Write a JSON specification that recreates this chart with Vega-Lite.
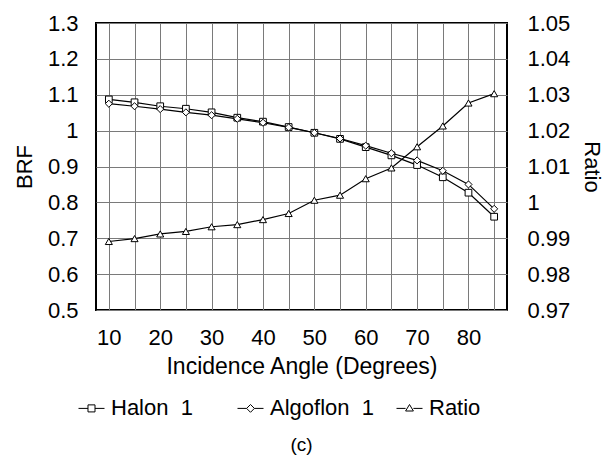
{
  "$schema": "https://vega.github.io/schema/vega-lite/v6.json",
  "width": 411,
  "height": 287,
  "autosize": {"type": "none"},
  "padding": {"left": 96, "top": 23, "right": 104, "bottom": 147},
  "background": "white",
  "config": {
    "font": "Liberation Sans",
    "view": {"stroke": "black", "strokeWidth": 2},
    "axis": {
      "labelFont": "Liberation Sans",
      "titleFont": "Liberation Sans",
      "labelFontSize": 22,
      "titleFontSize": 22,
      "titleFontWeight": "normal",
      "labelColor": "black",
      "titleColor": "black",
      "ticks": false,
      "domain": false,
      "gridColor": "#7a7a7a",
      "gridWidth": 1,
      "gridOpacity": 1
    }
  },
  "title": {
    "text": "(c)",
    "orient": "bottom",
    "fontSize": 19,
    "fontWeight": "normal",
    "font": "Liberation Sans",
    "color": "black",
    "offset": 17
  },
  "data": {
    "values": [
      {"angle": 10, "series": "Halon 1", "value": 1.087},
      {"angle": 15, "series": "Halon 1", "value": 1.079},
      {"angle": 20, "series": "Halon 1", "value": 1.068},
      {"angle": 25, "series": "Halon 1", "value": 1.061},
      {"angle": 30, "series": "Halon 1", "value": 1.051},
      {"angle": 35, "series": "Halon 1", "value": 1.036},
      {"angle": 40, "series": "Halon 1", "value": 1.025},
      {"angle": 45, "series": "Halon 1", "value": 1.010},
      {"angle": 50, "series": "Halon 1", "value": 0.994},
      {"angle": 55, "series": "Halon 1", "value": 0.977},
      {"angle": 60, "series": "Halon 1", "value": 0.954},
      {"angle": 65, "series": "Halon 1", "value": 0.931},
      {"angle": 70, "series": "Halon 1", "value": 0.904},
      {"angle": 75, "series": "Halon 1", "value": 0.870},
      {"angle": 80, "series": "Halon 1", "value": 0.827},
      {"angle": 85, "series": "Halon 1", "value": 0.760},
      {"angle": 10, "series": "Algoflon 1", "value": 1.075},
      {"angle": 15, "series": "Algoflon 1", "value": 1.068},
      {"angle": 20, "series": "Algoflon 1", "value": 1.060},
      {"angle": 25, "series": "Algoflon 1", "value": 1.051},
      {"angle": 30, "series": "Algoflon 1", "value": 1.043},
      {"angle": 35, "series": "Algoflon 1", "value": 1.033},
      {"angle": 40, "series": "Algoflon 1", "value": 1.022},
      {"angle": 45, "series": "Algoflon 1", "value": 1.009},
      {"angle": 50, "series": "Algoflon 1", "value": 0.994},
      {"angle": 55, "series": "Algoflon 1", "value": 0.978},
      {"angle": 60, "series": "Algoflon 1", "value": 0.958},
      {"angle": 65, "series": "Algoflon 1", "value": 0.937},
      {"angle": 70, "series": "Algoflon 1", "value": 0.917},
      {"angle": 75, "series": "Algoflon 1", "value": 0.888},
      {"angle": 80, "series": "Algoflon 1", "value": 0.850},
      {"angle": 85, "series": "Algoflon 1", "value": 0.782},
      {"angle": 10, "series": "Ratio", "value": 0.9891},
      {"angle": 15, "series": "Ratio", "value": 0.9899},
      {"angle": 20, "series": "Ratio", "value": 0.9912},
      {"angle": 25, "series": "Ratio", "value": 0.9919},
      {"angle": 30, "series": "Ratio", "value": 0.9932},
      {"angle": 35, "series": "Ratio", "value": 0.9938},
      {"angle": 40, "series": "Ratio", "value": 0.9952},
      {"angle": 45, "series": "Ratio", "value": 0.9969},
      {"angle": 50, "series": "Ratio", "value": 1.0006},
      {"angle": 55, "series": "Ratio", "value": 1.0020},
      {"angle": 60, "series": "Ratio", "value": 1.0066},
      {"angle": 65, "series": "Ratio", "value": 1.0096},
      {"angle": 70, "series": "Ratio", "value": 1.0155},
      {"angle": 75, "series": "Ratio", "value": 1.0213},
      {"angle": 80, "series": "Ratio", "value": 1.0277},
      {"angle": 85, "series": "Ratio", "value": 1.0303}
    ]
  },
  "encoding": {
    "x": {
      "field": "angle",
      "type": "quantitative",
      "scale": {"domain": [7.5, 87.5], "nice": false, "zero": false},
      "axis": {
        "title": "Incidence Angle (Degrees)",
        "values": [10, 15, 20, 25, 30, 35, 40, 45, 50, 55, 60, 65, 70, 75, 80, 85],
        "labelExpr": "datum.value % 10 == 0 ? datum.label : ''",
        "labelFontSize": 22,
        "titleFontSize": 23,
        "labelPadding": 17,
        "titlePadding": 7,
        "labelFlush": false,
        "labelOverlap": false
      }
    }
  },
  "layer": [
    {
      "encoding": {
        "y": {
          "field": "value",
          "type": "quantitative",
          "scale": {"domain": [0.5, 1.3], "nice": false, "zero": false},
          "axis": {
            "title": "BRF",
            "orient": "left",
            "values": [0.5, 0.6, 0.7, 0.8, 0.9, 1.0, 1.1, 1.2, 1.3],
            "format": "~g",
            "labelPadding": 18,
            "titlePadding": 11
          }
        }
      },
      "layer": [
        {
          "transform": [{"filter": "datum.series != 'Ratio'"}],
          "mark": {"type": "line", "color": "black", "strokeWidth": 1.2},
          "encoding": {"detail": {"field": "series"}}
        },
        {
          "transform": [{"filter": "datum.series == 'Halon 1'"}],
          "mark": {"type": "point", "shape": "square", "filled": true, "fill": "white", "stroke": "black", "strokeWidth": 1, "size": 45, "opacity": 1}
        },
        {
          "transform": [{"filter": "datum.series == 'Algoflon 1'"}],
          "mark": {"type": "point", "shape": "diamond", "filled": true, "fill": "white", "stroke": "black", "strokeWidth": 1, "size": 50, "opacity": 1}
        },
        {
          "transform": [{"filter": "datum.angle < 0"}],
          "mark": {"type": "point", "filled": false, "stroke": "black", "strokeWidth": 1},
          "encoding": {
            "shape": {
              "field": "series",
              "type": "nominal",
              "scale": {
                "domain": ["Halon 1", "Algoflon 1", "Ratio"],
                "range": [
                  "M-1,0.05H-0.27M0.27,0.05H1M-0.27,-0.22H0.27V0.32H-0.27Z",
                  "M-1,0.05H-0.3M0.3,0.05H1M0,-0.25L0.3,0.05L0,0.35L-0.3,0.05Z",
                  "M-1,0.05H-0.3M0.3,0.05H1M0,-0.25L0.3,0.25L-0.3,0.25Z"
                ]
              },
              "legend": {
                "title": null,
                "orient": "none",
                "legendX": -18,
                "legendY": 371,
                "direction": "horizontal",
                "columns": 3,
                "gridAlign": "all",
                "columnPadding": 20,
                "labelExpr": "replace(datum.label, ' ', '\u00a0 ')",
                "labelFont": "Liberation Sans",
                "labelFontSize": 22,
                "labelColor": "black",
                "labelOffset": 6,
                "labelLimit": 300,
                "symbolSize": 676,
                "symbolStrokeColor": "black",
                "symbolFillColor": "white",
                "symbolStrokeWidth": 1,
                "symbolOpacity": 1,
                "encode": {
                  "symbols": {
                    "update": {
                      "stroke": {"value": "black"},
                      "fill": {"value": "white"},
                      "opacity": {"value": 1},
                      "strokeWidth": {"value": 1}
                    }
                  }
                }
              }
            }
          }
        }
      ]
    },
    {
      "transform": [{"filter": "datum.series == 'Ratio'"}],
      "encoding": {
        "y": {
          "field": "value",
          "type": "quantitative",
          "scale": {"domain": [0.97, 1.05], "nice": false, "zero": false},
          "axis": {
            "title": "Ratio",
            "orient": "right",
            "values": [0.97, 0.98, 0.99, 1.0, 1.01, 1.02, 1.03, 1.04, 1.05],
            "format": "~g",
            "labelPadding": 20,
            "titlePadding": 10,
            "grid": false
          }
        }
      },
      "layer": [
        {
          "mark": {"type": "line", "color": "black", "strokeWidth": 1.2}
        },
        {
          "mark": {"type": "point", "shape": "triangle-up", "filled": true, "fill": "white", "stroke": "black", "strokeWidth": 1, "size": 50, "opacity": 1}
        }
      ]
    }
  ],
  "resolve": {"scale": {"y": "independent"}}
}
